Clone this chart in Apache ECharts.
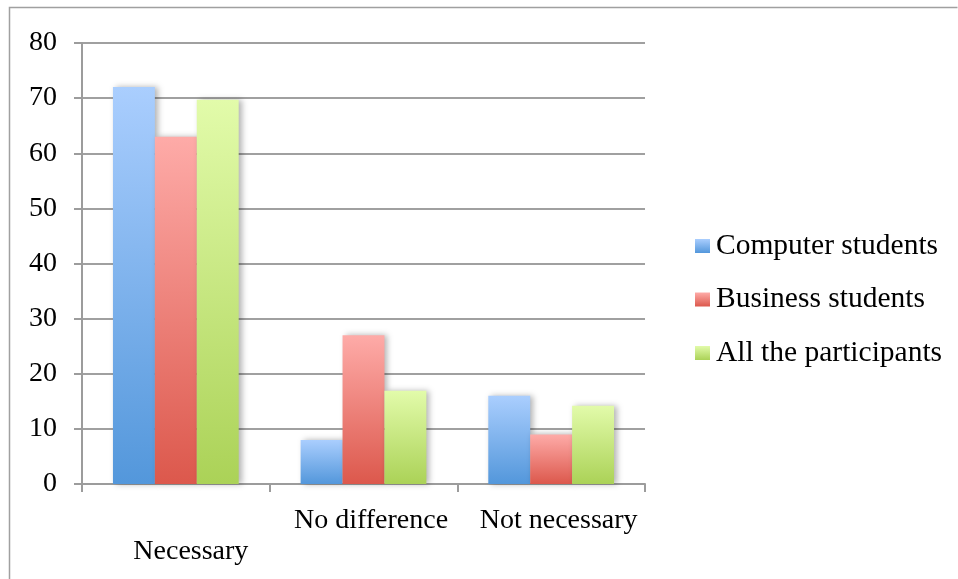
<!DOCTYPE html>
<html>
<head>
<meta charset="utf-8">
<script src="https://cdn.jsdelivr.net/npm/echarts@6/dist/echarts.min.js"></script>
<style>html,body{margin:0;padding:0;background:#fff}#c{width:958px;height:579px}</style>
</head>
<body>
<div id="c"></div>
<script>
const categories = ['Necessary', 'No difference', 'Not necessary'];
const seriesNames = ['Computer students', 'Business students', 'All the participants'];
const computerValues = [72, 8, 16];
const businessValues = [63, 27, 9];
const allValues = [69.7, 16.9, 14.2];
const yTicks = [0, 10, 20, 30, 40, 50, 60, 70, 80];

const FONT = 'Liberation Serif';
function grad(top, bottom) {
  return new echarts.graphic.LinearGradient(0, 0, 0, 1, [
    { offset: 0, color: top }, { offset: 1, color: bottom }
  ]);
}
const colors = [
  ['#aacefe', '#5397db'],
  ['#feaba8', '#dc584c'],
  ['#e2fbaa', '#abd257']
];
const values = [computerValues, businessValues, allValues];

const chart = echarts.init(document.getElementById('c'));
chart.setOption({
  animation: false,
  backgroundColor: '#fff',
  graphic: [{
    type: 'polyline',
    shape: { points: [[9.5, 600], [9.5, 7.5], [957.5, 7.5]] },
    style: { stroke: '#a0a0a0', lineWidth: 1.5, fill: null }
  }],
  grid: { left: 82, right: 313, top: 43, bottom: 95 },
  legend: {
    orient: 'vertical',
    left: 695,
    top: 231,
    padding: 0,
    icon: 'rect',
    itemWidth: 15,
    itemHeight: 14,
    itemGap: 23.5,
    data: seriesNames,
    textStyle: { fontFamily: FONT, fontSize: 29.5, color: '#000', padding: [0, 0, 0, 1] },
    itemStyle: { shadowBlur: 0, shadowOffsetX: 0, shadowColor: 'transparent' }
  },
  xAxis: {
    type: 'category',
    data: categories,
    axisLine: { lineStyle: { color: '#9c9c9c', width: 2 } },
    axisTick: { show: true, length: 8, lineStyle: { color: '#9c9c9c', width: 2 } },
    axisLabel: {
      interval: 0,
      margin: 21,
      fontFamily: FONT,
      fontSize: 28,
      color: '#000',
      lineHeight: 31,
      formatter: (v, i) => (i === 0 ? '{a|}\n{a|' + v + '}' : '{b|' + v + '}'),
      rich: {
        a: { fontFamily: FONT, fontSize: 28, lineHeight: 31, padding: [0, 0, 0, 30] },
        b: { fontFamily: FONT, fontSize: 28, lineHeight: 31, padding: [0, 0, 0, 15] }
      }
    }
  },
  yAxis: {
    type: 'value',
    min: 0,
    max: 80,
    interval: 10,
    axisLine: { show: true, lineStyle: { color: '#9c9c9c', width: 2 } },
    axisTick: { show: true, length: 8, lineStyle: { color: '#9c9c9c', width: 2 } },
    splitLine: { lineStyle: { color: '#a0a0a0', width: 2 } },
    axisLabel: {
      margin: 25,
      fontFamily: FONT,
      fontSize: 28,
      color: '#000',
      formatter: v => (yTicks.includes(v) ? String(v) : '')
    }
  },
  series: seriesNames.map((name, i) => ({
    name,
    type: 'bar',
    data: values[i],
    barGap: '0%',
    barCategoryGap: '33%',
    itemStyle: {
      color: grad(colors[i][0], colors[i][1]),
      shadowBlur: 6,
      shadowOffsetX: 3,
      shadowOffsetY: 0,
      shadowColor: 'rgba(0,0,0,0.3)'
    }
  }))
});
</script>
</body>
</html>
